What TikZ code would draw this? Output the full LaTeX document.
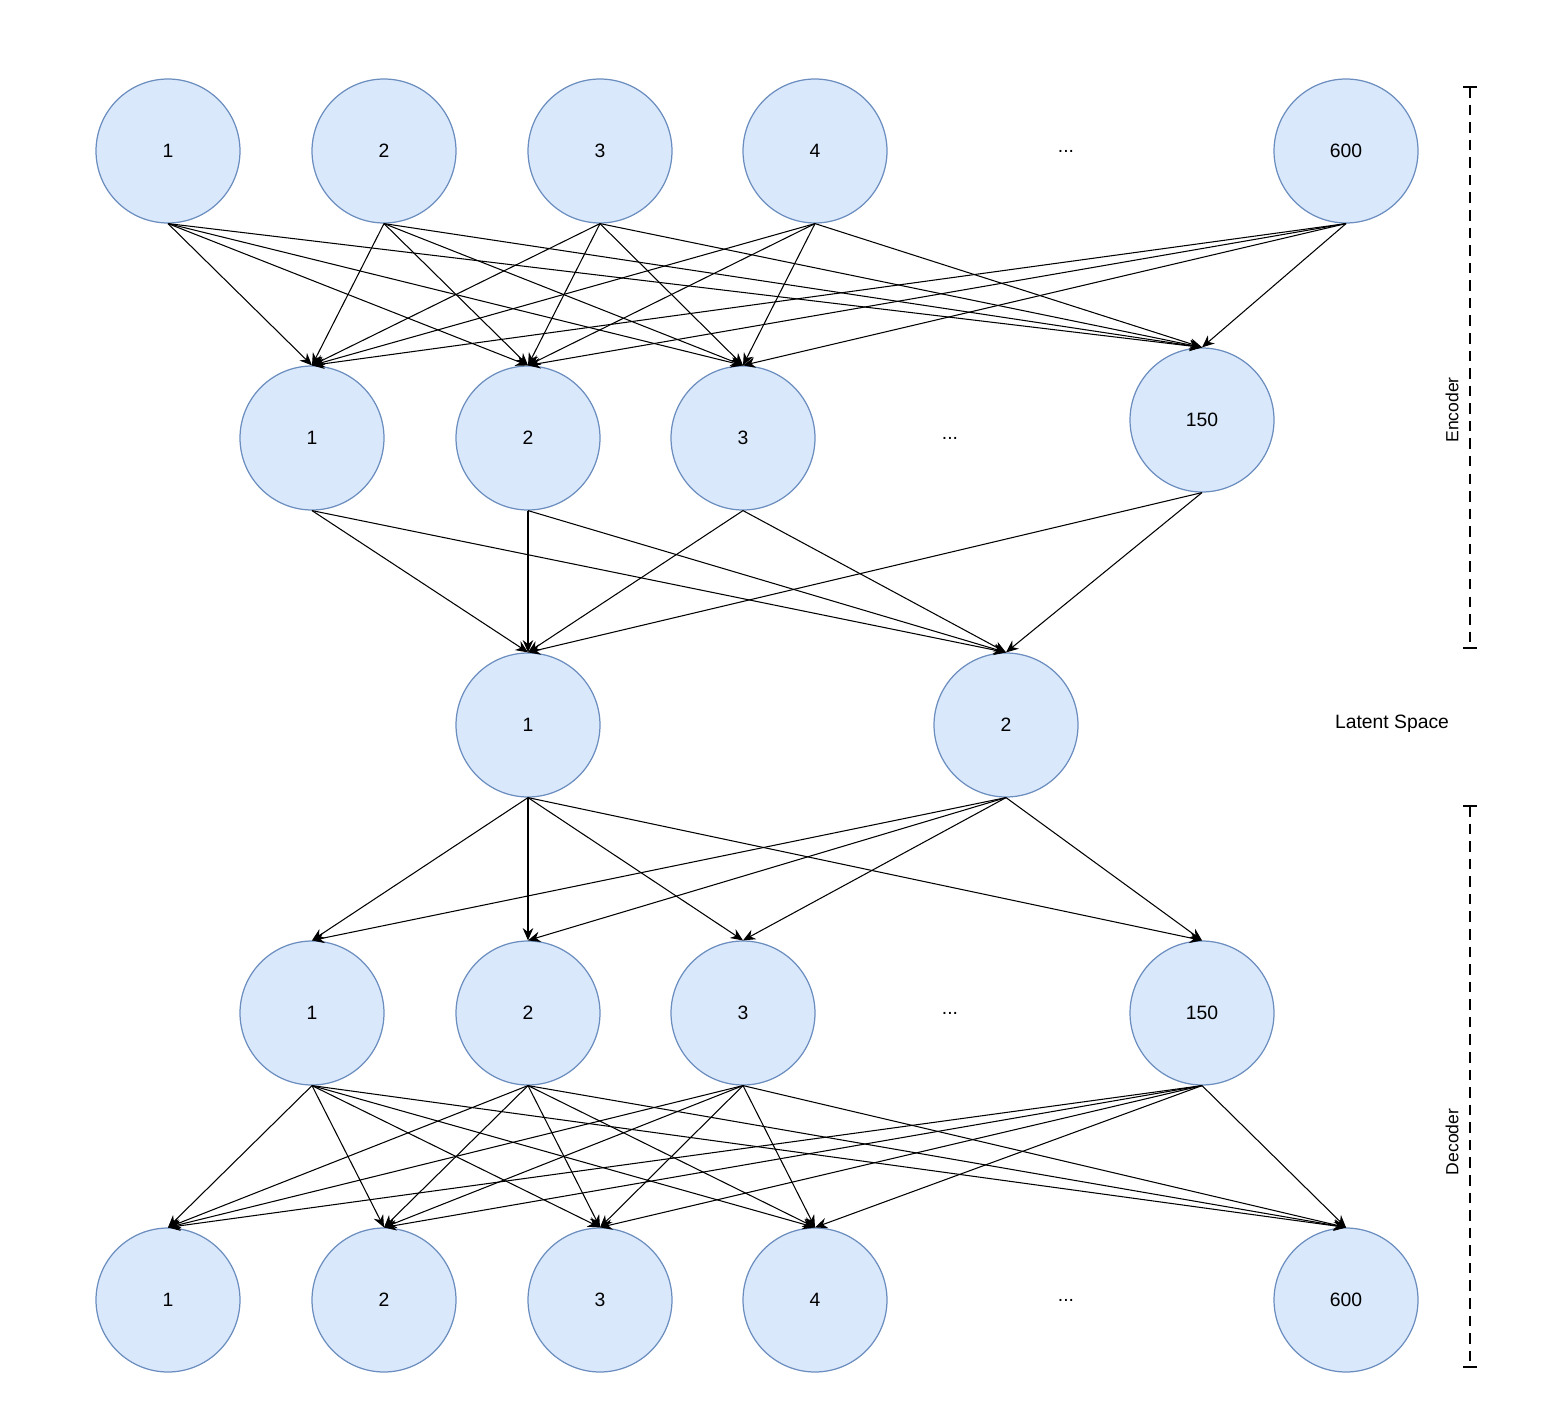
\documentclass[tikz,border=0pt]{standalone}
\usepackage{fontspec}
\setmainfont{Liberation Sans}
\usetikzlibrary{arrows.meta}
\definecolor{nfill}{HTML}{DAE8FC}
\definecolor{nline}{HTML}{6C8EBF}
\begin{document}
\begin{tikzpicture}[x=0.02cm,y=-0.02cm,
  neu/.style={circle,draw=nline,fill=nfill,line width=0.7pt,minimum size=2.88cm,inner sep=0pt,font=\fontsize{11}{13}\selectfont},
  lbl/.style={font=\fontsize{11}{13}\selectfont},
  ed/.style={-{Stealth[length=7pt,width=6pt]},line width=0.6pt},
  side/.style={line width=1.2pt,dash pattern=on 6pt off 4pt}]
\useasboundingbox (0,0) rectangle (1547,1408);
% layer A
\foreach \n/\x/\t in {a1/168/1,a2/384/2,a3/600/3,a4/815/4,a5/1346/600}
  \node[neu] (\n) at (\x,151) {\t};
\node[lbl] (ad) at (1066,151) {...};
% layer B
\foreach \n/\x/\t in {b1/312/1,b2/528/2,b3/743/3}
  \node[neu] (\n) at (\x,438) {\t};
\node[neu] (b4) at (1202,420) {150};
\node[lbl] (bd) at (950,438) {...};
% latent
\node[neu] (l1) at (528,725) {1};
\node[neu] (l2) at (1006,725) {2};
\node[lbl] (lt) at (1392,724) {Latent Space};
% layer C
\foreach \n/\x/\t in {c1/312/1,c2/528/2,c3/743/3,c4/1202/150}
  \node[neu] (\n) at (\x,1013) {\t};
\node[lbl] (cd) at (950,1013) {...};
% layer D
\foreach \n/\x/\t in {d1/168/1,d2/384/2,d3/600/3,d4/815/4,d5/1346/600}
  \node[neu] (\n) at (\x,1300) {\t};
\node[lbl] (dd) at (1066,1300) {...};
% edges
\foreach \s in {a1,a2,a3,a4,a5}
  \foreach \t in {b1,b2,b3,b4}
    \draw[ed] (\s.south) -- (\t.north);
\foreach \s in {b1,b2,b3,b4}
  \foreach \t in {l1,l2}
    \draw[ed] (\s.south) -- (\t.north);
\foreach \s in {l1,l2}
  \foreach \t in {c1,c2,c3,c4}
    \draw[ed] (\s.south) -- (\t.north);
\foreach \s in {c1,c2,c3,c4}
  \foreach \t in {d1,d2,d3,d4,d5}
    \draw[ed] (\s.south) -- (\t.north);
% side brackets
\coordinate (e1) at (1470,87); \coordinate (e2) at (1470,648);
\coordinate (f1) at (1470,806); \coordinate (f2) at (1470,1367);
\draw[side] (e1) -- (e2);
\draw[side] (f1) -- (f2);
\foreach \c in {e1,e2,f1,f2}
  \draw[line width=1.2pt] ([xshift=-0.14cm]\c) -- ([xshift=0.14cm]\c);
\node[lbl,rotate=90,font=\fontsize{10}{12}\selectfont] (enc) at (1452,410) {Encoder};
\node[lbl,rotate=90,font=\fontsize{10}{12}\selectfont] (dec) at (1452,1142) {Decoder};
\end{tikzpicture}
\end{document}
